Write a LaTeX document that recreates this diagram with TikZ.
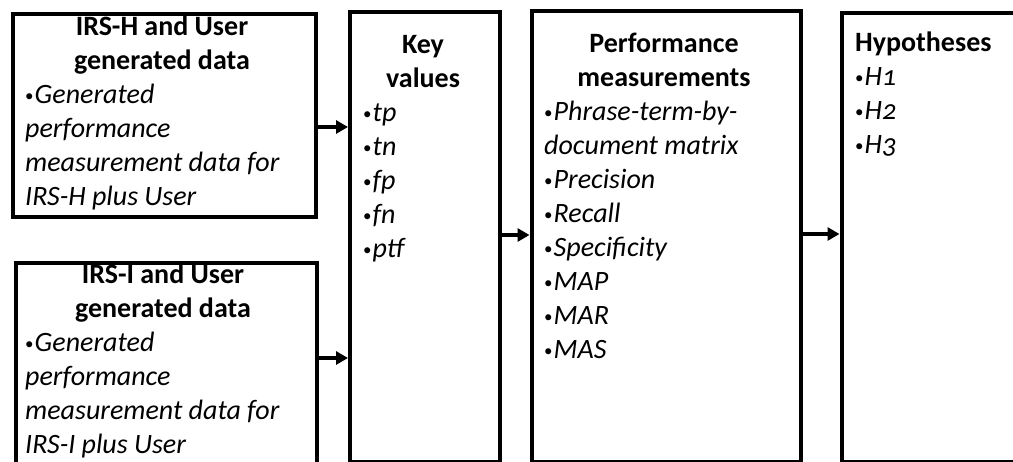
\documentclass[tikz,border=0pt]{standalone}
\usepackage{fontspec}
\setmainfont{Carlito}[Numbers=OldStyle]
\usetikzlibrary{arrows.meta}
\newcommand\mybul{\makebox[9.5pt][l]{\fontsize{17}{34}\selectfont\raisebox{1.5pt}{•}}}
\begin{document}
\begin{tikzpicture}[x=1pt,y=-1pt,
  box/.style={draw=black, line width=4pt, inner sep=0pt, anchor=north west},
  ttl/.style={font=\bfseries\fontsize{28}{34}\selectfont, align=center, inner sep=0pt, anchor=base},
  ttll/.style={font=\bfseries\fontsize{28}{34}\selectfont, inner sep=0pt, anchor=base west},
  body/.style={font=\fontsize{28}{34}\selectfont, align=left, inner sep=0pt, anchor=base west},
  arr/.style={line width=3.5pt, -{Triangle[length=12pt,width=13pt]}}]
\useasboundingbox (0,0) rectangle (1013,461);
% boxes
\node[box, minimum width=303.5pt, minimum height=203.5pt] (b1) at (10.5,11.5) {};
\node[box, minimum width=301pt, minimum height=201pt] (b2) at (14,260.5) {};
\node[box, minimum width=150pt, minimum height=450pt] (kv) at (348,9.5) {};
\node[box, minimum width=269.5pt, minimum height=450.5pt] (pf) at (529.5,9) {};
\node[box, minimum width=220pt, minimum height=449pt] (hy) at (839.5,10.5) {};
% titles (base anchor = last line)
\node[ttl] (t1) at (162,69) {IRS-H and User\\generated data};
\node[ttl] (t2) at (163,317) {IRS-I and User\\generated data};
\node[ttl] (t3) at (423,87) {Key\\values};
\node[ttl] (t4) at (664,86) {Performance\\measurements};
\node[ttll] (t5) at (855,51) {Hypotheses};
% bodies (base anchor = last line)
\node[body] (x1) at (25,205) {\mybul\textit{Generated}\\\textit{performance}\\\textit{measurement data for}\\\textit{IRS-H plus User}};
\node[body] (x2) at (25,453) {\mybul\textit{Generated}\\\textit{performance}\\\textit{measurement data for}\\\textit{IRS-I plus User}};
\node[body] (x3) at (363,257) {\mybul\textit{tp}\\\mybul\textit{tn}\\\mybul\textit{fp}\\\mybul\textit{fn}\\\mybul\textit{ptf}};
\node[body] (x4) at (544,358) {\mybul\textit{Phrase-term-by-}\\\textit{document matrix}\\\mybul\textit{Precision}\\\mybul\textit{Recall}\\\mybul\textit{Specificity}\\\mybul\textit{MAP}\\\mybul\textit{MAR}\\\mybul\textit{MAS}};
\node[body] (x5) at (855,153) {\mybul\textit{H1}\\\mybul\textit{H2}\\\mybul\textit{H3}};
% arrows
\coordinate (y1) at (0,127);
\coordinate (y2) at (0,358);
\coordinate (y3) at (0,235);
\coordinate (y4) at (0,234);
\draw[arr] (b1.east |- y1) -- (kv.west |- y1);
\draw[arr] (b2.east |- y2) -- (kv.west |- y2);
\draw[arr] (kv.east |- y3) -- (pf.west |- y3);
\draw[arr] (pf.east |- y4) -- (hy.west |- y4);
\end{tikzpicture}
\end{document}
